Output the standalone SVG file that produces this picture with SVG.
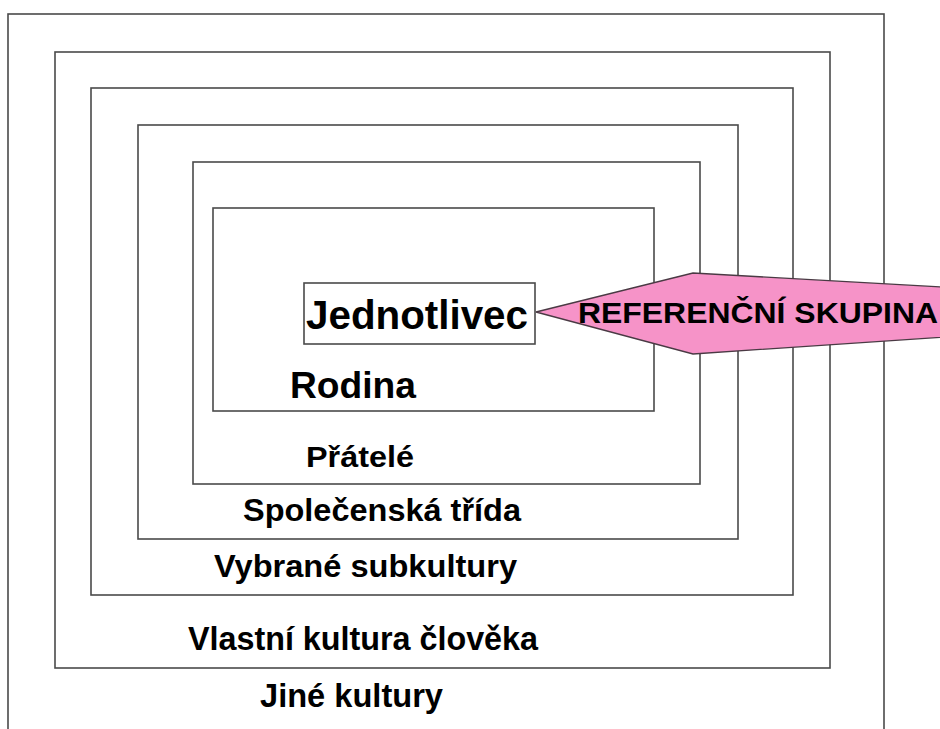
<svg xmlns="http://www.w3.org/2000/svg" width="940" height="729" viewBox="0 0 940 729">
<style>
.box{fill:none;stroke:#4a4a4a;stroke-width:1.6}
.lbl{font-family:"Liberation Sans",Arial,sans-serif;font-weight:bold;fill:#000}
</style>
<rect width="940" height="729" fill="#fff"/>
<g id="jine-kultury">
<rect class="box" x="8" y="14" width="876" height="730"/>
<text class="lbl" x="260" y="707" font-size="33" textLength="183" lengthAdjust="spacingAndGlyphs">Jiné kultury</text>
</g>
<g id="vlastni-kultura">
<rect class="box" x="55" y="52" width="775" height="616"/>
<text class="lbl" x="188" y="650" font-size="34" textLength="350" lengthAdjust="spacingAndGlyphs">Vlastní kultura člověka</text>
</g>
<g id="subkultury">
<rect class="box" x="91" y="88" width="702" height="507"/>
<text class="lbl" x="214" y="577" font-size="32" textLength="303" lengthAdjust="spacingAndGlyphs">Vybrané subkultury</text>
</g>
<g id="spolecenska-trida">
<rect class="box" x="138" y="125" width="600" height="414"/>
<text class="lbl" x="243" y="521" font-size="31" textLength="278" lengthAdjust="spacingAndGlyphs">Společenská třída</text>
</g>
<g id="pratele">
<rect class="box" x="193" y="162" width="507" height="322"/>
<text class="lbl" x="306" y="467" font-size="30" textLength="108" lengthAdjust="spacingAndGlyphs">Přátelé</text>
</g>
<g id="rodina">
<rect class="box" x="213" y="208" width="441" height="203"/>
<text class="lbl" x="290" y="398" font-size="37" textLength="126" lengthAdjust="spacingAndGlyphs">Rodina</text>
</g>
<g id="jednotlivec">
<rect class="box" x="304" y="283" width="231" height="61" fill="#fff"/>
<text class="lbl" x="306" y="329" font-size="41" textLength="222" lengthAdjust="spacingAndGlyphs">Jednotlivec</text>
</g>
<g id="connectors">
<g id="referencni-skupina">
<polygon points="536,312 693,273 960,288 960,336 693,354" fill="#F693C8" stroke="#4a3a44" stroke-width="1.3"/>
<text class="lbl" x="578" y="323" font-size="30" textLength="360" lengthAdjust="spacingAndGlyphs">REFERENČNÍ SKUPINA</text>
</g>
</g>
</svg>
